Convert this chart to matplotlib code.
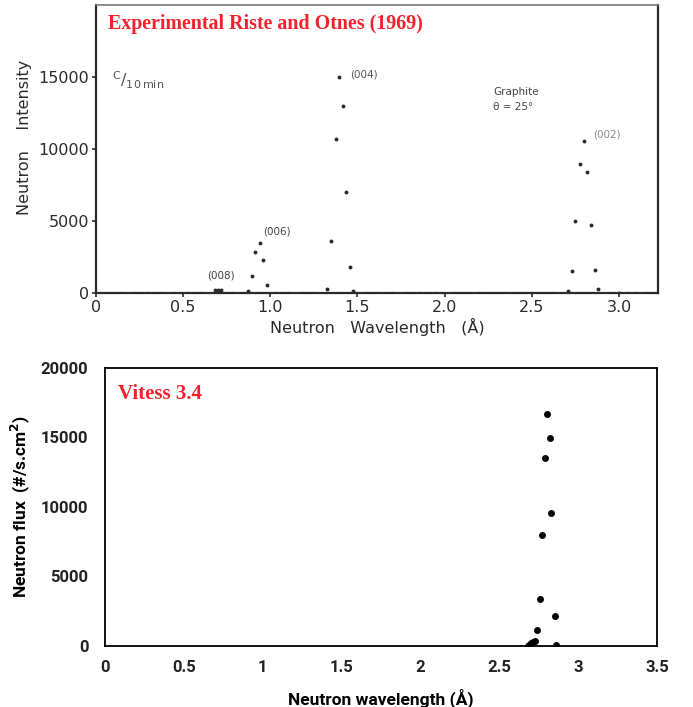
import numpy as np
import matplotlib
matplotlib.use('Agg')
from matplotlib import pyplot as plt

# Experimental (Riste and Otnes 1969)
lam_exp = [0.68, 0.70, 0.72, 0.871, 0.896, 0.914, 0.942, 0.960, 0.980,
           1.328, 1.351, 1.376, 1.396, 1.417, 1.437, 1.460, 1.477,
           2.710, 2.732, 2.750, 2.778, 2.798, 2.818, 2.841, 2.864, 2.881, 3.00]
int_exp = [200, 200, 200, 140, 1200, 2860, 3460, 2260, 580,
           300, 3640, 10670, 15020, 12970, 6980, 1770, 160,
           160, 1540, 5020, 8990, 10530, 8430, 4700, 1610, 250, 30]
# faint background counts along the baseline
lam_bg = [0.15, 0.22, 0.30, 0.38, 0.45, 0.52, 0.60, 0.78, 0.84, 1.03, 1.10, 1.18,
          1.25, 1.55, 1.62, 1.70, 1.78, 1.86, 1.95, 2.05, 2.20, 2.35, 2.50, 2.62,
          3.05, 3.10, 3.15]
int_bg = [60, 60, 60, 60, 60, 60, 60, 60, 60, 60, 60, 60,
          60, 60, 60, 60, 60, 60, 60, 60, 60, 60, 60, 60,
          60, 60, 60]
exp_xticks = [0, 0.5, 1.0, 1.5, 2.0, 2.5, 3.0]
exp_xlabels = ['0', '0.5', '1.0', '1.5', '2.0', '2.5', '3.0']
exp_yticks = [0, 5000, 10000, 15000]

# Vitess 3.4 simulation
lam_sim = [2.680, 2.690, 2.700, 2.715, 2.728, 2.739, 2.756, 2.770, 2.792,
           2.801, 2.820, 2.829, 2.851, 2.862]
flux_sim = [20, 100, 180, 280, 340, 1130, 3390, 7960, 13510,
            16660, 14930, 9590, 2190, 50]
sim_xticks = [0, 0.5, 1, 1.5, 2, 2.5, 3, 3.5]
sim_xlabels = ['0', '0.5', '1', '1.5', '2', '2.5', '3', '3.5']
sim_yticks = [0, 5000, 10000, 15000, 20000]

ink = '#2a2a2a'
red = '#f5222d'

fig = plt.figure(figsize=(6.93, 7.07), dpi=100)

# ---- top: scanned experimental plot
ax1 = fig.add_axes([0.1385, 0.5856, 0.811, 0.4073])
ax1.plot(lam_bg, int_bg, 's', ms=1.2, color='#9a9a9a', mec='none')
ax1.plot(lam_exp, int_exp, 'o', ms=2.8, color=ink, mec='none')
ax1.set_xlim(0, 3.224)
ax1.set_ylim(0, 20000)
ax1.set_xticks(exp_xticks)
ax1.set_xticklabels(exp_xlabels)
ax1.set_yticks(exp_yticks)
ax1.tick_params(labelsize=11.5, colors=ink, length=3, width=1.2, direction='out', pad=2)
for s in ['left', 'bottom', 'right']:
    ax1.spines[s].set_linewidth(1.6)
    ax1.spines[s].set_color(ink)
ax1.spines['top'].set_linewidth(1.2)
ax1.spines['top'].set_color('#7a7a7a')
ax1.set_xlabel('Neutron   Wavelength   (Å)', fontsize=11.5, color=ink, labelpad=2)
ax1.set_ylabel('Neutron    Intensity', fontsize=11.5, color=ink)
ax1.yaxis.set_label_coords(-0.114, 0.54)

ax1.text(0.021, 0.935, 'Experimental Riste and Otnes (1969)', transform=ax1.transAxes,
         family='Liberation Serif', fontweight='bold', fontsize=14.4, color=red,
         va='center', ha='left')
ax1.text(0.092, 14800, r'$^{\mathsf{C}}/_{\mathsf{10\,min}}$', fontsize=11.5, color='#555555',
         ha='left', va='center')
ax1.text(1.457, 15140, '(004)', fontsize=7.5, color='#555555', va='center')
ax1.text(0.960, 4240, '(006)', fontsize=7.5, color='#444444', va='center')
ax1.text(0.635, 1180, '(008)', fontsize=7.5, color='#444444', va='center')
ax1.text(2.850, 11040, '(002)', fontsize=7.5, color='#888888', va='center')
ax1.text(2.280, 13960, 'Graphite', fontsize=7.5, color='#444444', va='center')
ax1.text(2.280, 12920, 'θ = 25°', fontsize=7.5, color='#444444', va='center')

# ---- bottom: Vitess simulation (Excel style)
ax2 = fig.add_axes([0.1515, 0.0863, 0.7966, 0.3932])
ax2.plot(lam_sim, flux_sim, 'o', ms=5, color='black', mec='none')
ax2.set_xlim(0, 3.5)
ax2.set_ylim(0, 20000)
ax2.set_xticks(sim_xticks)
ax2.set_xticklabels(sim_xlabels)
ax2.set_yticks(sim_yticks)
ax2.tick_params(axis='x', length=0, pad=10, labelsize=12, colors='#222222')
ax2.tick_params(axis='y', length=0, pad=12, labelsize=12, colors='#222222')
for lab in ax2.get_xticklabels() + ax2.get_yticklabels():
    lab.set_fontweight('bold')
    lab.set_family('Roboto')
for s in ax2.spines.values():
    s.set_linewidth(1.3)
    s.set_color('black')
ax2.set_xlabel('Neutron wavelength (Å)', fontsize=12.5, fontweight='bold', family='Roboto', labelpad=10)
ax2.set_ylabel(r'Neutron flux  (#/s.cm$^\mathbf{2}$)', fontsize=12.5, fontweight='bold', family='Roboto')
ax2.yaxis.set_label_coords(-0.132, 0.5)
ax2.text(0.024, 0.905, 'Vitess 3.4', transform=ax2.transAxes,
         family='Liberation Serif', fontweight='bold', fontsize=15, color=red,
         va='center', ha='left')

fig.savefig('out.png', dpi=100)
